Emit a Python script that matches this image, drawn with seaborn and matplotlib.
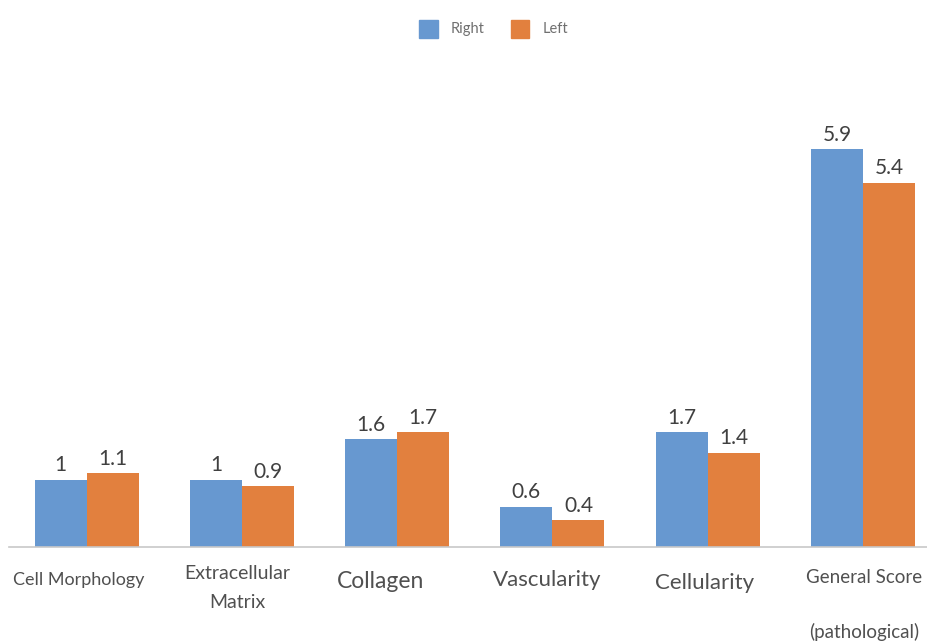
import matplotlib.pyplot as plt
import matplotlib.patches as mpatches
import pandas as pd
import seaborn as sns

# values
categories = ['Cell Morphology', 'Extracellular Matrix', 'Collagen',
              'Vascularity', 'Cellularity', 'General Score (pathological)']
tick_labels = ['Cell Morphology', 'Extracellular\nMatrix', 'Collagen',
               'Vascularity', 'Cellularity', 'General Score\n\n(pathological)']
right_vals = [1, 1, 1.6, 0.6, 1.7, 5.9]
left_vals = [1.1, 0.9, 1.7, 0.4, 1.4, 5.4]
value_text_right = ['1', '1', '1.6', '0.6', '1.7', '5.9']
value_text_left = ['1.1', '0.9', '1.7', '0.4', '1.4', '5.4']

blue = '#6798D0'
orange = '#E2803E'

df = pd.DataFrame({
    'category': categories * 2,
    'side': ['Right'] * 6 + ['Left'] * 6,
    'value': right_vals + left_vals,
})

sns.set_style('white')
plt.rcParams['font.family'] = ['Lato', 'DejaVu Sans']

fig = plt.figure(figsize=(9.28, 6.44), dpi=100)
ax_h = 0.70
ax = fig.add_axes([9 / 928, 97 / 644, 1 - 9 / 928, ax_h])

sns.barplot(data=df, x='category', y='value', hue='side',
            palette={'Right': blue, 'Left': orange}, width=0.67,
            saturation=1, ax=ax, legend=False, edgecolor='none')

step = 155.2  # pixels per category
ax.set_xlim(-0.5, (928 - 87) / step)
ax.set_ylim(0, ax_h * 644 / 67.5)

# value labels
for cont, texts in zip(ax.containers, [value_text_right, value_text_left]):
    ax.bar_label(cont, labels=texts, padding=3, fontsize=15, color='#404040')

# axes styling: only the baseline
for side in ['top', 'right', 'left']:
    ax.spines[side].set_visible(False)
ax.spines['bottom'].set_color('#c8c8c8')
ax.spines['bottom'].set_linewidth(1.2)
ax.set_yticks([])
ax.set_xlabel('')
ax.set_ylabel('')
ax.set_xticks(range(len(categories)))
ax.set_xticklabels([])
ax.tick_params(axis='x', length=0)

# category labels, sizes and offsets as in the picture
sizes = [13, 14, 16.5, 16, 16, 13.5]
centers_px = [580, 588, 582, 580, 583, 605]
shift_px = [-8, -5, -17, -5, -3, 1]
spacing = [1.2, 1.8, 1.2, 1.2, 1.2, 1.72]
ax_px = ax_h * 644
trans = ax.get_xaxis_transform()
for i, lab in enumerate(tick_labels):
    ax.text(i + shift_px[i] / step, -(centers_px[i] - 547) / ax_px, lab,
            transform=trans, ha='center', va='center', fontsize=sizes[i],
            color='#505050', linespacing=spacing[i], multialignment='center')

# legend at the top
handles = [mpatches.Patch(color=blue, label='Right'),
           mpatches.Patch(color=orange, label='Left')]
fig.legend(handles=handles, loc='upper center', bbox_to_anchor=(0.532, 0.99),
           ncol=2, frameon=False, fontsize=10.5, labelcolor='#707070',
           handlelength=1.25, handleheight=1.55, handletextpad=0.9,
           columnspacing=1.8)

fig.savefig('out.png', dpi=100)
